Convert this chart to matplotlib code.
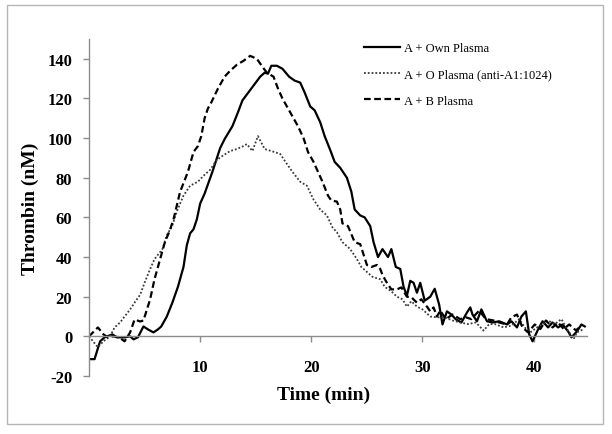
import matplotlib
matplotlib.use("Agg")
import matplotlib.pyplot as plt
from matplotlib.patches import Rectangle

# ── Data ─────────────────────────────────────────────────────────────────────────
t_own = [0.0, 0.5, 0.8, 1.0, 1.4, 2.1, 2.5, 3.2, 3.7, 4.0,
         4.4, 4.9, 5.3, 5.8, 6.2, 6.5, 7.0, 7.5, 8.0, 8.5,
         8.8, 9.1, 9.4, 9.7, 10.0, 10.4, 11.1, 11.8, 12.2, 12.9,
         13.4, 13.8, 14.2, 14.6, 15.0, 15.4, 15.8, 16.1, 16.4, 16.9,
         17.4, 18.0, 18.5, 19.0, 19.4, 19.9, 20.3, 20.8, 21.2, 21.7,
         22.1, 22.6, 23.2, 23.6, 23.9, 24.4, 24.8, 25.3, 25.6, 26.0,
         26.4, 26.9, 27.2, 27.6, 28.0, 28.3, 28.6, 28.9, 29.2, 29.5,
         29.8, 30.2, 30.7, 31.1, 31.5, 31.8, 32.2, 32.6, 33.0, 33.5,
         34.0, 34.3, 34.5, 34.9, 35.3, 35.8, 36.3, 36.9, 37.6, 38.0,
         38.5, 38.9, 39.3, 39.6, 39.9, 40.4, 40.8, 41.3, 41.7, 42.2,
         42.6, 43.1, 43.4, 43.9, 44.3, 44.6]
v_own = [-11.5, -11.5, -6, -2.5, -0.5, 1, -0.5, -0.5, 0, -1.5,
         -0.5, 5, 3.5, 2, 3.5, 5, 10, 17, 25, 35,
         46, 52, 54, 59, 67, 72, 83, 95, 99.5, 106,
         113, 119, 122, 125, 128, 131, 133, 132.5, 136.5, 136.5,
         135, 131, 129, 128, 123, 116, 114, 108, 101, 94,
         88, 85, 80, 73, 64, 61, 60, 55.6, 47.5, 40,
         44, 40, 44, 35, 34, 25, 20.5, 28, 27, 22,
         27, 18, 20, 24, 16, 6, 12.6, 11, 8.6, 7,
         12, 14.6, 11, 7.6, 13.6, 7.6, 7, 7.6, 6, 7.6,
         4.5, 10, 12.6, 1, -2.5, 3.5, 7.6, 4.5, 7, 4.5,
         6, 2.5, -0.5, 2.5, 6, 5]

t_o = [0.0, 0.8, 1.3, 1.9, 2.3, 2.8, 3.2, 3.7, 4.1, 4.6,
       5.0, 5.5, 5.9, 6.6, 7.0, 7.5, 7.9, 8.5, 9.1, 9.8,
       10.3, 10.9, 11.5, 12.0, 12.7, 13.3, 13.9, 14.2, 14.7, 15.2,
       15.8, 16.4, 17.2, 17.8, 18.3, 19.0, 19.6, 20.2, 20.8, 21.4,
       21.9, 22.3, 22.8, 23.5, 24.1, 24.5, 25.1, 25.5, 26.2, 26.6,
       27.2, 27.7, 28.2, 28.6, 29.0, 29.5, 30.0, 30.7, 31.3, 32.0,
       32.7, 33.4, 34.1, 34.8, 35.5, 36.0, 36.5, 37.3, 38.0, 38.7,
       39.2, 39.7, 40.3, 40.8, 41.3, 41.9, 42.5, 43.0, 43.6, 43.9,
       44.5]
v_o = [0, -5.5, -2.5, 0, 4.5, 7, 10, 13.6, 17, 21,
       27, 34, 39, 44, 51, 56, 63, 71, 76, 78,
       81, 84, 89, 91, 93.5, 94.5, 96, 97, 93.5, 101,
       94.5, 93.5, 92, 87, 83, 78, 76, 69, 64, 61,
       55, 52.5, 47.5, 44, 39, 35, 32, 30, 28.8, 25,
       22.7, 20, 18.7, 15, 17.7, 15, 13.6, 10, 9.6, 9.6,
       8, 7, 6.2, 7, 2.9, 6.2, 6.2, 4.5, 5.4, 8.7,
       4.5, 2, 4.5, 6.2, 8, 6.2, 8.7, 3.7, -1.3, 2,
       3.7]

t_b = [0.0, 0.8, 1.3, 1.7, 2.2, 2.7, 3.2, 3.7, 4.1, 4.6,
       4.9, 5.5, 5.9, 6.4, 6.8, 7.3, 7.6, 8.2, 8.9, 9.4,
       9.8, 10.1, 10.4, 10.7, 11.0, 11.6, 12.2, 12.7, 13.3, 13.9,
       14.5, 15.1, 15.6, 16.0, 16.6, 17.0, 17.4, 17.9, 18.3, 18.8,
       19.3, 19.7, 20.2, 20.6, 21.0, 21.5, 21.8, 22.3, 22.6, 22.8,
       23.3, 23.9, 24.4, 25.0, 25.4, 25.9, 26.2, 26.4, 26.8, 27.2,
       27.7, 28.1, 28.6, 29.0, 29.5, 29.9, 30.4, 30.7, 31.0, 31.3,
       31.6, 32.1, 32.7, 33.4, 33.9, 34.4, 35.1, 35.7, 36.4, 36.9,
       37.6, 38.0, 38.5, 39.0, 39.5, 40.1, 40.6, 41.1, 41.7, 42.2,
       42.7, 43.2, 43.8, 44.3]
v_b = [0, 4.5, 1, -0.5, 0, -0.5, -2.5, 2, 8.5, 7.5,
       8, 18.7, 29, 39, 47, 54, 59, 73, 83, 93,
       96, 101, 110, 115, 118, 125, 131, 134, 137, 139,
       141.5, 140, 136, 133, 131, 125, 120, 115, 111, 106,
       100, 93, 88, 83, 78, 71, 68.5, 68, 64, 57,
       55.6, 47.5, 46.5, 36, 35, 36, 34, 31, 27, 23.7,
       23.7, 24.7, 20, 19.7, 17, 18.7, 15, 12.6, 14.6, 10,
       13, 8.7, 11, 8.7, 9.6, 8.7, 13, 8.7, 8, 7,
       6, 9.6, 11, 4.5, 2, 6, 3.7, 8, 4.5, 7,
       3.7, 6, 3, 5.4]

labels = ["A + Own Plasma", "A + O Plasma (anti-A1:1024)", "A + B Plasma"]
x_ticks = [10, 20, 30, 40]
y_ticks = list(range(-20, 141, 20))

# ── Figure ──────────────────────────────────────────────────────────────────────
SERIF = ["Liberation Serif", "DejaVu Serif"]
AXIS = "#8c8c8c"
plt.rcParams["axes.unicode_minus"] = False   # Excel-style "-20"

fig = plt.figure(figsize=(6.12, 4.35), dpi=100, facecolor="white")
ax = fig.add_axes([89 / 612, 1 - 377 / 435, 498 / 612, 337 / 435])

# outer frame
fig.patches.append(Rectangle((7 / 612, 1 - 425 / 435), 596 / 612, 419 / 435,
                             transform=fig.transFigure, fill=False,
                             edgecolor="#b5b5b5", linewidth=1.0))

l1, = ax.plot(t_own, v_own, color="black", lw=1.6, solid_joinstyle="round")
l2, = ax.plot(t_o, v_o, color="#3a3a3a", lw=1.3, linestyle=(0, (1, 1.1)))
l3, = ax.plot(t_b, v_b, color="black", lw=1.6, linestyle=(0, (3, 1.6)))

ax.set_xlim(0, 44.8)
ax.set_ylim(-20, 150)

for side in ("top", "right"):
    ax.spines[side].set_visible(False)
ax.spines["bottom"].set_position(("data", 0))
for side in ("left", "bottom"):
    ax.spines[side].set_color(AXIS)
    ax.spines[side].set_linewidth(1.0)

ax.set_xticks(x_ticks)
ax.set_yticks(y_ticks)
ax.tick_params(axis="x", direction="out", length=4, width=1, color=AXIS, pad=12)
ax.tick_params(axis="y", direction="out", length=4, width=1, color=AXIS, pad=8)
for lab in ax.get_xticklabels() + ax.get_yticklabels():
    lab.set_family(SERIF)
    lab.set_fontweight("bold")
    lab.set_fontsize(12)

ax.text(0.472, -0.053, "Time (min)", transform=ax.transAxes, ha="center",
        va="center", family=SERIF, fontweight="bold", fontsize=14)
ax.text(-0.118, 0.5, "Thrombin (nM)", transform=ax.transAxes, ha="center",
        va="center", rotation=90, family=SERIF, fontweight="bold", fontsize=14)

leg = ax.legend([l1, l2, l3], labels, loc="upper left",
                bbox_to_anchor=(364 / 612, 1 - 43 / 435),
                bbox_transform=fig.transFigure, frameon=False,
                prop={"family": SERIF, "size": 9}, handlelength=2.9,
                handletextpad=0.3, labelspacing=1.15, borderpad=0,
                borderaxespad=0)

fig.savefig("out.png", dpi=100, facecolor="white")
